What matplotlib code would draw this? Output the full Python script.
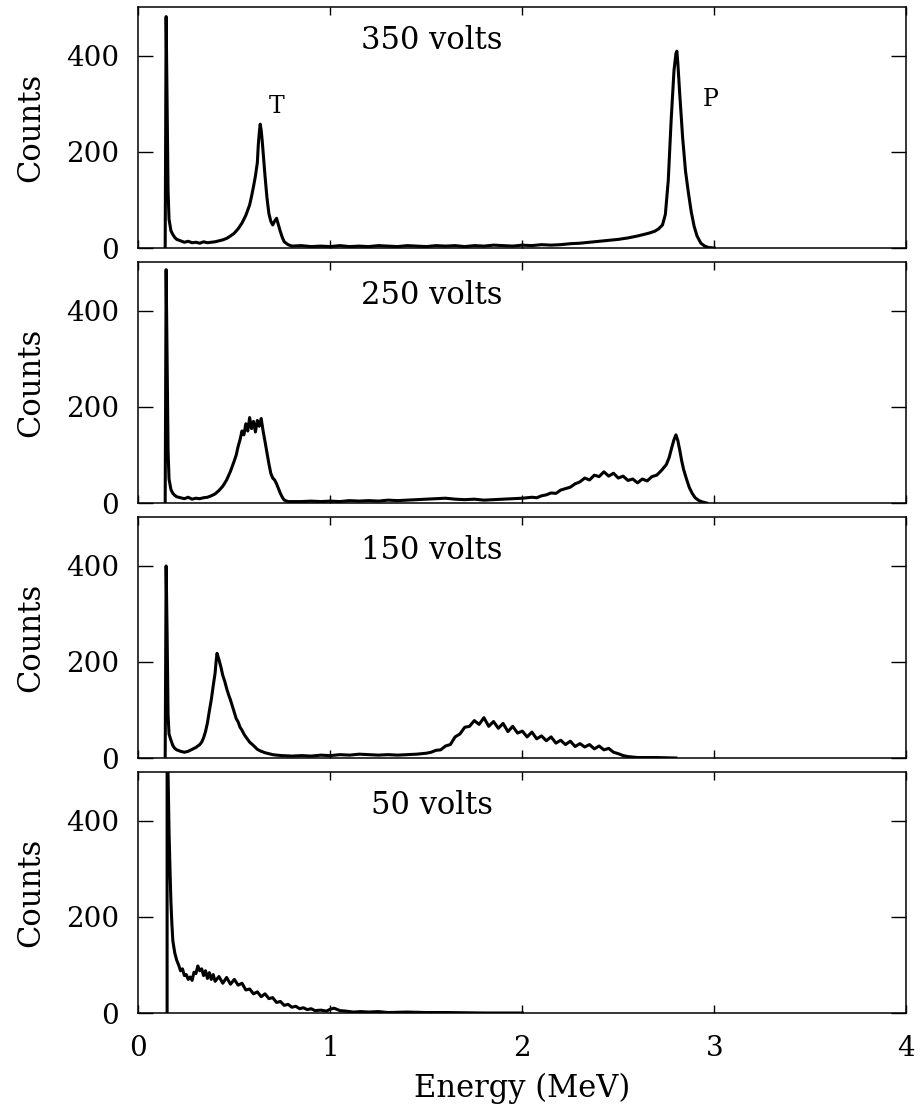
import matplotlib
matplotlib.use("Agg")
import matplotlib.pyplot as plt

plt.rcParams["font.family"] = ["DejaVu Serif"]

# =============================
# DATA
# =============================
e350 = [0.140, 0.145, 0.150, 0.155, 0.160, 0.170, 0.180, 0.190, 0.200, 0.220,
        0.240, 0.260, 0.280, 0.300, 0.320, 0.340, 0.360, 0.380, 0.400, 0.420,
        0.440, 0.460, 0.480, 0.500, 0.520, 0.540, 0.560, 0.580, 0.590, 0.600,
        0.610, 0.620, 0.625, 0.630, 0.635, 0.640, 0.645, 0.650, 0.660, 0.670,
        0.680, 0.690, 0.700, 0.710, 0.720, 0.730, 0.740, 0.750, 0.760, 0.780,
        0.800, 0.850, 0.900, 0.950, 1.000, 1.050, 1.100, 1.150, 1.200, 1.250,
        1.300, 1.350, 1.400, 1.450, 1.500, 1.550, 1.600, 1.650, 1.700, 1.750,
        1.800, 1.850, 1.900, 1.950, 2.000, 2.050, 2.100, 2.150, 2.200, 2.250,
        2.300, 2.350, 2.400, 2.450, 2.500, 2.550, 2.600, 2.630, 2.660, 2.690,
        2.710, 2.730, 2.745, 2.760, 2.775, 2.790, 2.800, 2.805, 2.810, 2.820,
        2.835, 2.850, 2.865, 2.880, 2.895, 2.910, 2.930, 2.950, 2.970, 3.000]
c350 = [0, 482, 300, 120, 60, 36, 28, 22, 18, 15,
        12, 14, 11, 12, 10, 13, 11, 12, 13, 15,
        17, 20, 25, 31, 40, 52, 68, 90, 108, 128,
        150, 178, 215, 240, 258, 245, 225, 200, 150, 105,
        72, 56, 48, 56, 62, 48, 34, 22, 13, 7,
        4, 5, 3, 4, 3, 5, 3, 4, 3, 5,
        4, 3, 5, 4, 3, 5, 4, 5, 3, 5,
        4, 6, 5, 4, 6, 5, 7, 6, 7, 9,
        10, 12, 14, 16, 18, 21, 25, 28, 31, 35,
        40, 48, 70, 140, 265, 370, 405, 410, 385, 320,
        230, 160, 115, 75, 45, 25, 10, 4, 1, 0]

e250 = [0.140, 0.145, 0.150, 0.155, 0.160, 0.170, 0.180, 0.190, 0.200, 0.220,
        0.240, 0.260, 0.280, 0.300, 0.320, 0.340, 0.360, 0.380, 0.400, 0.420,
        0.440, 0.460, 0.480, 0.500, 0.510, 0.520, 0.530, 0.540, 0.550, 0.560,
        0.570, 0.580, 0.590, 0.600, 0.610, 0.620, 0.630, 0.640, 0.650, 0.660,
        0.670, 0.680, 0.690, 0.700, 0.710, 0.720, 0.730, 0.740, 0.750, 0.760,
        0.780, 0.800, 0.850, 0.900, 0.950, 1.000, 1.050, 1.100, 1.150, 1.200,
        1.250, 1.300, 1.350, 1.400, 1.450, 1.500, 1.550, 1.600, 1.650, 1.700,
        1.750, 1.800, 1.850, 1.900, 1.950, 2.000, 2.050, 2.075, 2.100, 2.125,
        2.150, 2.175, 2.200, 2.225, 2.250, 2.275, 2.300, 2.325, 2.350, 2.375,
        2.400, 2.425, 2.450, 2.475, 2.500, 2.525, 2.550, 2.575, 2.600, 2.625,
        2.650, 2.675, 2.700, 2.725, 2.750, 2.765, 2.780, 2.790, 2.800, 2.810,
        2.820, 2.830, 2.840, 2.855, 2.870, 2.885, 2.900, 2.920, 2.940, 2.960]
c250 = [0, 486, 300, 110, 50, 28, 20, 16, 13, 11,
        9, 12, 8, 10, 9, 11, 12, 15, 19, 26,
        35, 48, 66, 88, 100, 118, 132, 150, 142, 165,
        150, 178, 155, 170, 148, 172, 160, 176, 150, 128,
        105, 82, 62, 52, 48, 40, 30, 20, 12, 6,
        3, 3, 3, 4, 3, 4, 3, 5, 4, 5,
        4, 6, 5, 6, 7, 8, 9, 10, 8, 7,
        8, 6, 7, 8, 9, 10, 12, 11, 15, 17,
        21, 20, 27, 30, 33, 40, 44, 52, 48, 58,
        55, 65, 56, 62, 52, 56, 47, 50, 42, 50,
        46, 55, 58, 68, 80, 95, 118, 132, 142, 130,
        110, 88, 70, 50, 32, 20, 11, 5, 2, 0]

e150 = [0.140, 0.145, 0.150, 0.155, 0.160, 0.170, 0.180, 0.190, 0.200, 0.220,
        0.240, 0.260, 0.280, 0.300, 0.320, 0.330, 0.340, 0.350, 0.360, 0.370,
        0.380, 0.390, 0.400, 0.405, 0.410, 0.420, 0.430, 0.440, 0.450, 0.460,
        0.470, 0.480, 0.490, 0.500, 0.510, 0.520, 0.530, 0.540, 0.550, 0.560,
        0.580, 0.600, 0.620, 0.640, 0.660, 0.680, 0.700, 0.720, 0.750, 0.800,
        0.850, 0.900, 0.950, 1.000, 1.050, 1.100, 1.150, 1.200, 1.250, 1.300,
        1.350, 1.400, 1.450, 1.500, 1.525, 1.550, 1.575, 1.600, 1.625, 1.650,
        1.675, 1.700, 1.725, 1.750, 1.775, 1.800, 1.825, 1.850, 1.875, 1.900,
        1.925, 1.950, 1.975, 2.000, 2.025, 2.050, 2.075, 2.100, 2.125, 2.150,
        2.175, 2.200, 2.225, 2.250, 2.275, 2.300, 2.325, 2.350, 2.375, 2.400,
        2.425, 2.450, 2.475, 2.500, 2.525, 2.550, 2.575, 2.600, 2.700, 2.800]
c150 = [0, 400, 260, 90, 50, 37, 26, 20, 17, 14,
        12, 14, 18, 22, 28, 33, 42, 55, 73, 98,
        121, 150, 177, 200, 218, 205, 190, 172, 160, 145,
        132, 121, 108, 95, 82, 75, 64, 58, 50, 44,
        33, 26, 18, 14, 11, 9, 7, 6, 5, 4,
        5, 4, 6, 5, 7, 6, 8, 7, 6, 7,
        6, 7, 8, 10, 12, 16, 17, 25, 28, 44,
        50, 64, 66, 78, 70, 84, 66, 76, 62, 72,
        55, 66, 52, 56, 44, 54, 40, 46, 36, 44,
        31, 37, 28, 35, 24, 30, 23, 28, 19, 25,
        17, 20, 12, 9, 5, 3, 2, 1, 1, 0]

e50 = [0.150, 0.150, 0.155, 0.160, 0.165, 0.170, 0.175, 0.180, 0.190, 0.200,
       0.210, 0.220, 0.230, 0.240, 0.250, 0.260, 0.270, 0.280, 0.290, 0.300,
       0.310, 0.320, 0.330, 0.340, 0.350, 0.360, 0.370, 0.380, 0.390, 0.400,
       0.420, 0.440, 0.460, 0.480, 0.500, 0.520, 0.540, 0.560, 0.580, 0.600,
       0.620, 0.640, 0.660, 0.680, 0.700, 0.720, 0.740, 0.760, 0.780, 0.800,
       0.820, 0.840, 0.860, 0.880, 0.900, 0.920, 0.950, 0.980, 1.000, 1.020,
       1.050, 1.080, 1.120, 1.160, 1.200, 1.250, 1.300, 1.400, 1.500, 1.600,
       1.800, 2.000]
c50 = [0, 560, 500, 380, 300, 230, 185, 150, 125, 110,
       100, 88, 92, 78, 80, 70, 75, 68, 85, 82,
       98, 88, 92, 78, 88, 72, 84, 70, 80, 66,
       76, 62, 74, 60, 70, 58, 62, 48, 50, 40,
       44, 34, 40, 30, 32, 22, 24, 16, 18, 12,
       14, 9, 11, 7, 9, 5, 6, 4, 8, 10,
       5, 4, 2, 3, 2, 3, 1, 2, 1, 1,
       0, 0]

volts = ["350 volts", "250 volts", "150 volts", "50 volts"]
peak_labels = ["T", "P"]
peak_pos = [(0.72, 295), (2.98, 310)]

# =============================
# FIGURE
# =============================
fig = plt.figure(figsize=(9.22, 11.11), dpi=100)
gs = fig.add_gridspec(4, 1, left=0.150, right=0.983, top=0.9937, bottom=0.0882,
                      hspace=0.058)

spectra = [(e350, c350), (e250, c250), (e150, c150), (e50, c50)]

for i, (e, c) in enumerate(spectra):
    ax = fig.add_subplot(gs[i])
    ax.plot(e, c, color="black", lw=2.2)
    ax.set_xlim(0, 4)
    ax.set_ylim(0, 502)
    ax.set_xticks([0, 1, 2, 3, 4])
    ax.set_yticks([0, 200, 400])
    ax.tick_params(direction="in", top=True, right=True)
    ax.tick_params(axis="y", length=11, width=1, labelsize=20, pad=14)
    ax.tick_params(axis="x", length=6, width=1, labelsize=20, pad=16)
    for s in ax.spines.values():
        s.set_linewidth(1.1)
    if i < 3:
        ax.set_xticklabels([])
    ax.set_ylabel("Counts", fontsize=22)
    ax.yaxis.set_label_coords(-0.12, 0.5)
    ax.text(1.53, 433, volts[i], ha="center", va="center", fontsize=22)
    if i == 0:
        for lab, (px, py) in zip(peak_labels, peak_pos):
            ax.text(px, py, lab, ha="center", va="center", fontsize=17)

ax.set_xlabel("Energy (MeV)", fontsize=22)
ax.xaxis.set_label_coords(0.5, -0.25)

fig.savefig("out.png", dpi=100)
